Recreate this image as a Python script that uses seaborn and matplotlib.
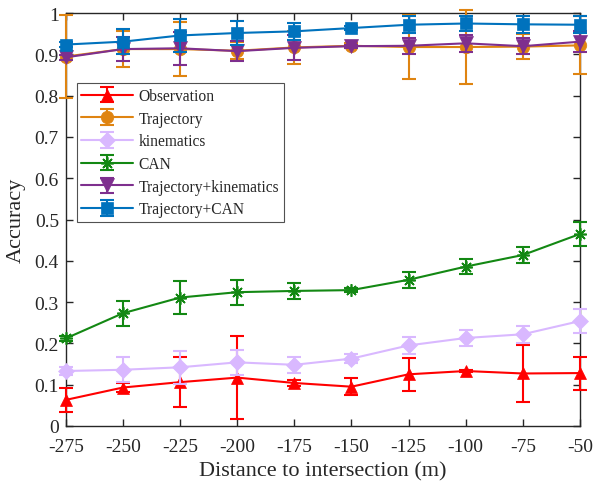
import numpy as np
import pandas as pd
import matplotlib
matplotlib.use("Agg")
import matplotlib.pyplot as plt
import seaborn as sns
from matplotlib.ticker import FuncFormatter, MultipleLocator

distance = [-275, -250, -225, -200, -175, -150, -125, -100, -75, -50]
series_names = ["Observation", "Trajectory", "kinematics", "CAN",
                "Trajectory+kinematics", "Trajectory+CAN"]

obs_mean = [0.063, 0.093, 0.106, 0.117, 0.104, 0.095, 0.125, 0.133, 0.127, 0.128]
obs_err = [0.030, 0.010, 0.060, 0.100, 0.008, 0.020, 0.040, 0.003, 0.070, 0.040]
traj_mean = [0.895, 0.913, 0.913, 0.909, 0.917, 0.921, 0.918, 0.918, 0.919, 0.922]
traj_err = [0.100, 0.043, 0.065, 0.020, 0.040, 0.006, 0.077, 0.090, 0.030, 0.070]
kin_mean = [0.133, 0.136, 0.142, 0.154, 0.148, 0.163, 0.195, 0.213, 0.222, 0.254]
kin_err = [0.010, 0.030, 0.040, 0.030, 0.020, 0.010, 0.020, 0.020, 0.020, 0.030]
can_mean = [0.212, 0.273, 0.311, 0.324, 0.327, 0.329, 0.354, 0.386, 0.414, 0.465]
can_err = [0.007, 0.030, 0.040, 0.030, 0.019, 0.005, 0.020, 0.019, 0.019, 0.030]
tk_mean = [0.893, 0.913, 0.915, 0.908, 0.916, 0.920, 0.921, 0.927, 0.920, 0.931]
tk_err = [0.006, 0.030, 0.040, 0.025, 0.030, 0.004, 0.020, 0.020, 0.020, 0.025]
tc_mean = [0.924, 0.931, 0.946, 0.952, 0.956, 0.964, 0.972, 0.975, 0.973, 0.972]
tc_err = [0.005, 0.030, 0.040, 0.030, 0.020, 0.004, 0.020, 0.019, 0.020, 0.021]

means = [obs_mean, traj_mean, kin_mean, can_mean, tk_mean, tc_mean]
errs = [obs_err, traj_err, kin_err, can_err, tk_err, tc_err]

colors = ["#FF0000", "#DF8411", "#D9B8FF", "#138813", "#7E2F8E", "#0072BD"]
markers = ["^", "o", "D", (8, 2, 0), "v", "s"]
msizes = [9, 9, 8, 9, 10, 8]

sns.set_theme(style="ticks")
plt.rcParams["font.family"] = ["Liberation Serif", "DejaVu Serif"]
plt.rcParams["axes.unicode_minus"] = False

fig = plt.figure(figsize=(5.93, 4.89), dpi=100)
ax = fig.add_axes([0.111, 0.127, 0.867, 0.844])

rows = []
for name, m in zip(series_names, means):
    for d, v in zip(distance, m):
        rows.append({"Distance": d, "Accuracy": v, "Series": name})
df = pd.DataFrame(rows)

handles = []
for i, name in enumerate(series_names):
    sub = df[df["Series"] == name]
    mew = 1.2 if i == 3 else 0.5
    sns.lineplot(data=sub, x="Distance", y="Accuracy", ax=ax, color=colors[i],
                 marker=markers[i], markersize=msizes[i], markeredgecolor=colors[i],
                 markeredgewidth=mew, linewidth=1.5,
                 legend=False, zorder=3 + i, errorbar=None, clip_on=False)
    eb = ax.errorbar(distance, means[i], yerr=errs[i], fmt="none", ecolor=colors[i],
                     elinewidth=1.5, capsize=5, capthick=1.5, zorder=3 + i)
    for art in eb.get_children():
        art.set_clip_on(False)
    line = matplotlib.lines.Line2D([], [], color=colors[i], marker=markers[i],
                                   markersize=msizes[i], markeredgecolor=colors[i],
                                   markeredgewidth=mew, linewidth=1.5)
    handles.append((eb, line))

ax.set_xlim(-275, -50)
ax.set_ylim(0, 1)
ax.set_xticks(distance)
ax.yaxis.set_major_locator(MultipleLocator(0.1))
ax.yaxis.set_major_formatter(FuncFormatter(lambda v, p: "%g" % round(v, 2)))
ax.tick_params(direction="in", top=True, right=True, labelsize=14, length=5,
               width=1, colors="#262626")
ax.tick_params(axis="x", pad=9)
ax.tick_params(axis="y", pad=5)
for s in ax.spines.values():
    s.set_linewidth(1)
    s.set_color("#262626")
ax.set_xlabel("Distance to intersection (m)", fontsize=16, color="#262626", labelpad=4)
ax.set_ylabel("Accuracy", fontsize=16, color="#262626", labelpad=6)

leg = ax.legend(handles, series_names, loc="upper left", bbox_to_anchor=(0.021, 0.83),
                fontsize=11.2, frameon=True, fancybox=False, edgecolor="#262626",
                handlelength=3.3, borderpad=0.3, labelspacing=0.43, handletextpad=0.4,
                borderaxespad=0)
leg.get_frame().set_linewidth(0.8)
leg.set_zorder(20)

fig.savefig("out.png", dpi=100)
